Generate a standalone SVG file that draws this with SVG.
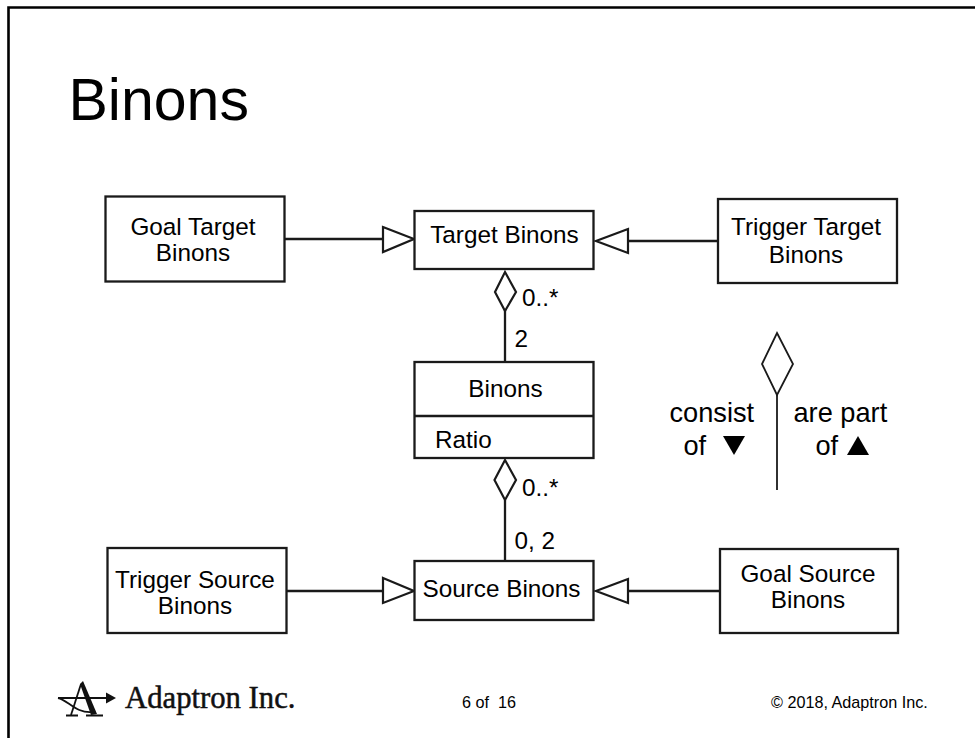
<svg xmlns="http://www.w3.org/2000/svg" width="975" height="738" viewBox="0 0 975 738">
<style>
text{font-family:"Liberation Sans",Arial,sans-serif;fill:#000;font-size:24.3px;white-space:pre}
.m{text-anchor:middle}
.box{fill:#fff;stroke:#1a1a1a;stroke-width:2.300}
.ln{fill:none;stroke:#1a1a1a;stroke-width:2.300}
.hd{fill:#fff;stroke:#1a1a1a;stroke-width:2.200;stroke-linejoin:miter}
.thin{fill:#fff;stroke:#1a1a1a;stroke-width:1.800}
.ft{font-size:16.2px}
.lg{font-size:27.2px}
.mk{fill:none;stroke:#111;stroke-width:1.800}
</style>
<rect width="975" height="738" fill="#fff"/>
<g id="frame"><path d="M975 7.500H8.500V738" fill="none" stroke="#000" stroke-width="2.600"/></g>
<text id="title" x="68.500" y="120" style="font-size:59px">Binons</text>
<g id="connectors">
<path class="ln" d="M285 239H383M628 241H718M505 310V362M505 500V561M287 591H383M628 591H720"/>
<polygon class="hd" points="383,227 414,239 383,252"/>
<polygon class="hd" points="628,229 596,241 628,253"/>
<polygon class="hd" points="505,272 516,292 505,311 495,292"/>
<polygon class="hd" points="505,460 516,480 505,500 494.500,480"/>
<polygon class="hd" points="383,578 414,591 383,603"/>
<polygon class="hd" points="628,579 596,591 628,603"/>
</g>
<g id="goal-target"><rect class="box" x="105.500" y="196.500" width="179" height="85"/><text class="m" x="193" y="235">Goal Target</text><text class="m" x="193" y="261">Binons</text></g>
<g id="target"><rect class="box" x="414.500" y="211" width="179" height="58"/><text class="m" x="504.500" y="242.500">Target Binons</text></g>
<g id="trigger-target"><rect class="box" x="718" y="199" width="179" height="84"/><text class="m" x="806" y="235">Trigger Target</text><text class="m" x="806" y="263">Binons</text></g>
<g id="binons"><rect class="box" x="414.500" y="362" width="179" height="96"/><path class="ln" d="M414.500 416H593.500"/><text class="m" x="505.500" y="397">Binons</text><text x="435" y="448">Ratio</text></g>
<g id="trigger-source"><rect class="box" x="107.500" y="548" width="179" height="85"/><text class="m" x="195" y="588">Trigger Source</text><text class="m" x="195" y="614">Binons</text></g>
<g id="source"><rect class="box" x="414.500" y="561" width="179" height="59"/><text class="m" x="501.500" y="597">Source Binons</text></g>
<g id="goal-source"><rect class="box" x="720" y="549" width="178" height="84"/><text class="m" x="808" y="582">Goal Source</text><text class="m" x="808" y="608">Binons</text></g>
<g id="labels">
<text x="522" y="306">0..*</text><text x="514.500" y="347">2</text>
<text x="522" y="496">0..*</text><text x="514.500" y="549">0, 2</text>
</g>
<g id="legend">
<path class="ln" d="M777 395V490" style="stroke-width:1.800"/>
<polygon class="thin" points="777,333 793,364 777,395 762,364"/>
<text class="lg" x="669.500" y="422">consist</text><text class="lg" x="683.500" y="454.500">of</text>
<polygon points="723,436 745,436 734,455" fill="#000"/>
<text class="lg" x="793.500" y="422">are part</text><text class="lg" x="815.500" y="454.500">of</text>
<polygon points="847,455 869,455 858,436" fill="#000"/>
</g>
<g id="logo">
<path class="mk" d="M58 698H108"/>
<polygon points="106,692.500 116,698 106,703.500" fill="#111"/>
<polygon points="80,684 83,681 97,714 91,715" fill="#111"/>
<path class="mk" d="M81 684L71 715"/>
<path class="mk" d="M58 698C68 700 76 714 93 712"/>
<path class="mk" d="M66 715.500H78M86 715.500H103"/>
<text x="125" y="708" style="font-family:'Liberation Serif',serif;font-size:30.700px;fill:#111;stroke:#111;stroke-width:.5">Adaptron Inc.</text>
</g>
<g id="footer">
<text class="ft" x="462" y="708">6 of  16</text>
<text class="ft" x="771" y="708">© 2018, Adaptron Inc.</text>
</g>
</svg>
